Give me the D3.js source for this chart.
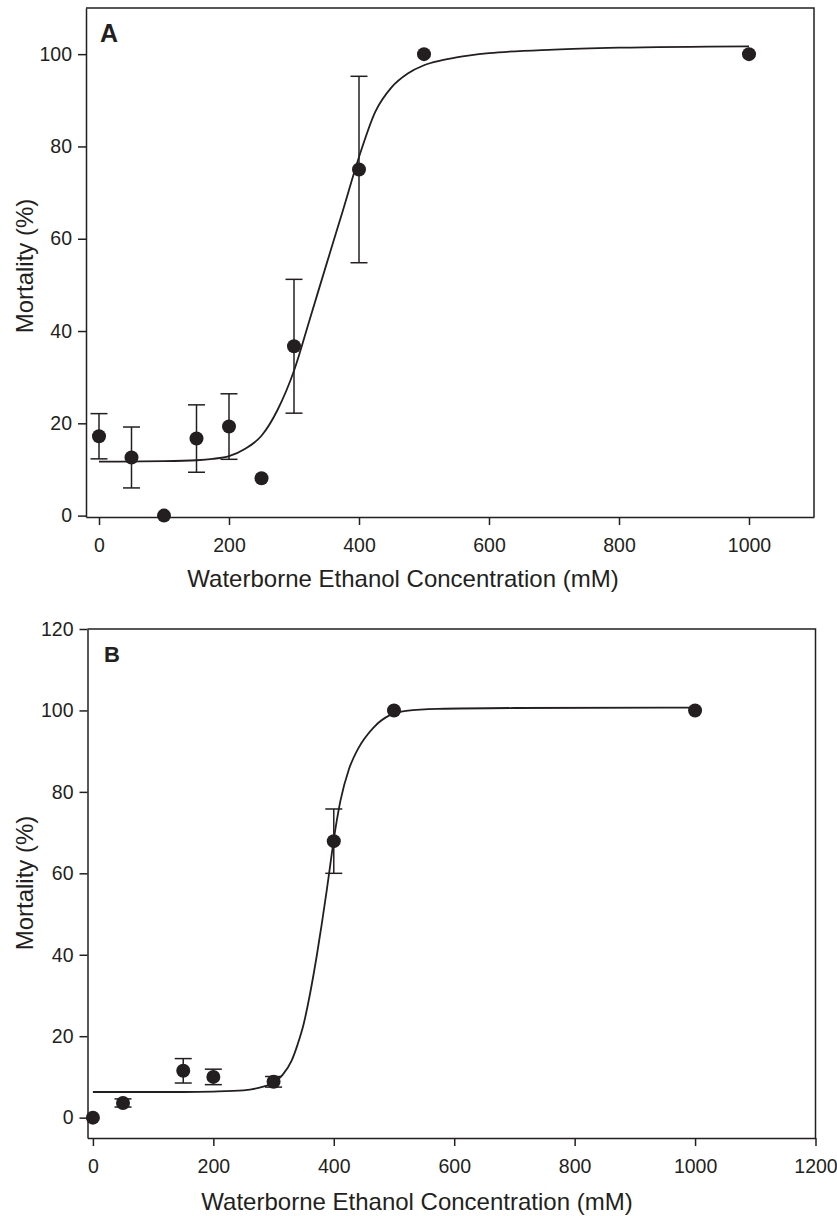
<!DOCTYPE html>
<html>
<head>
    <meta charset="utf-8">
    <title>ethanol_mortality</title>
    <script src="https://d3js.org/d3.v7.min.js"></script>
    <style>
        body { margin: 0; background: #fff; }
        text { font-family: "Liberation Sans", Arial, sans-serif; fill: #231f20; }
        .axis path, .axis line { stroke: #231f20; stroke-width: 1.5; }
        .axis text { font-size: 19.5px; }
    </style>
</head>
<body>
    <svg width="837" height="1216"></svg>
    <script>
        // Panel A: observed mortality, mean and error
        var concA = [0, 50, 100, 150, 200, 250, 300, 400, 500, 1000];
        var mortA = [17.2, 12.6, 0, 16.7, 19.3, 8.1, 36.7, 75.0, 100, 100];
        var errA  = [4.9, 6.6, 0, 7.3, 7.1, 0, 14.5, 20.2, 0, 0];

        // Panel A: fitted curve
        var fitAx = [0, 100, 150, 175, 200, 225, 250, 275, 300, 325, 350, 375, 400, 425, 450, 475, 500, 525, 550, 600, 700, 800, 1000];
        var fitAy = [11.7, 11.8, 12.0, 12.3, 12.9, 14.5, 17.3, 23.0, 31.4, 42.9, 54.5, 66.0, 77.7, 87.5, 92.8, 95.8, 97.6, 98.6, 99.3, 100.2, 101.0, 101.4, 101.7];

        // Panel B
        var concB = [0, 50, 150, 200, 300, 400, 500, 1000];
        var mortB = [0, 3.6, 11.5, 10.0, 8.8, 67.9, 100, 100];
        var errB  = [0, 1.0, 3.0, 1.9, 1.3, 7.9, 0, 0];

        var fitBx = [0, 150, 200, 250, 275, 300, 315, 330, 340, 350, 360, 372, 380, 388, 395, 400, 411, 425, 440, 466, 494, 520, 572, 700, 1000];
        var fitBy = [6.3, 6.3, 6.4, 6.7, 7.3, 8.6, 10.5, 14.0, 18.0, 23.0, 30.0, 40.0, 47.5, 55.5, 63.0, 68.3, 77.8, 85.5, 90.5, 95.8, 98.9, 99.9, 100.4, 100.6, 100.7];

        // Tick values
        var xTicksA = [0, 200, 400, 600, 800, 1000];
        var yTicksA = [0, 20, 40, 60, 80, 100];
        var xTicksB = [0, 200, 400, 600, 800, 1000, 1200];
        var yTicksB = [0, 20, 40, 60, 80, 100, 120];

        var xTitle = "Waterborne Ethanol Concentration (mM)";
        var yTitle = "Mortality (%)";

        var svg = d3.select("svg");

        function drawPanel(p) {
            var x = d3.scaleLinear().domain(p.xDomain).range([p.left, p.right]);
            var y = d3.scaleLinear().domain(p.yDomain).range([p.bottom, p.top]);

            var g = svg.append("g");

            // x axis
            g.append("g")
                .attr("class", "axis")
                .attr("transform", "translate(0," + p.bottom + ")")
                .call(d3.axisBottom(x).tickValues(p.xTicks).tickFormat(d3.format("d"))
                    .tickSize(8).tickSizeOuter(0).tickPadding(13));

            // y axis
            g.append("g")
                .attr("class", "axis")
                .attr("transform", "translate(" + p.left + ",0)")
                .call(d3.axisLeft(y).tickValues(p.yTicks).tickFormat(d3.format("d"))
                    .tickSize(8).tickSizeOuter(0).tickPadding(6));

            // top and right frame
            g.append("path")
                .attr("d", "M" + p.left + "," + p.top + "H" + p.right + "V" + p.bottom)
                .attr("fill", "none")
                .attr("stroke", "#231f20")
                .attr("stroke-width", 1.5);

            // fitted curve
            var line = d3.line()
                .x(function(d) { return x(d[0]); })
                .y(function(d) { return y(d[1]); })
                .curve(d3.curveMonotoneX);

            g.append("path")
                .datum(d3.zip(p.fitX, p.fitY))
                .attr("d", line)
                .attr("fill", "none")
                .attr("stroke", "#231f20")
                .attr("stroke-width", 1.8);

            var pts = p.conc.map(function(c, i) {
                return { c: c, m: p.mort[i], e: p.err[i] };
            });

            // error bars
            var bars = g.selectAll(".err")
                .data(pts.filter(function(d) { return d.e > 0; }))
                .enter().append("g")
                .attr("stroke", "#231f20")
                .attr("stroke-width", 1.5);

            bars.append("line")
                .attr("x1", function(d) { return x(d.c); })
                .attr("x2", function(d) { return x(d.c); })
                .attr("y1", function(d) { return y(d.m - d.e); })
                .attr("y2", function(d) { return y(d.m + d.e); });
            bars.append("line")
                .attr("x1", function(d) { return x(d.c) - 8.5; })
                .attr("x2", function(d) { return x(d.c) + 8.5; })
                .attr("y1", function(d) { return y(d.m + d.e); })
                .attr("y2", function(d) { return y(d.m + d.e); });
            bars.append("line")
                .attr("x1", function(d) { return x(d.c) - 8.5; })
                .attr("x2", function(d) { return x(d.c) + 8.5; })
                .attr("y1", function(d) { return y(d.m - d.e); })
                .attr("y2", function(d) { return y(d.m - d.e); });

            // points
            g.selectAll(".pt")
                .data(pts)
                .enter().append("circle")
                .attr("cx", function(d) { return x(d.c); })
                .attr("cy", function(d) { return y(d.m); })
                .attr("r", 7)
                .attr("fill", "#231f20");

            // panel letter
            g.append("text")
                .attr("x", p.letterX)
                .attr("y", p.letterY)
                .attr("font-size", p.letterSize + "px")
                .attr("font-weight", "bold")
                .text(p.letter);

            // axis titles
            g.append("text")
                .attr("x", p.xTitleX)
                .attr("y", p.xTitleY)
                .attr("text-anchor", "middle")
                .attr("font-size", "24px")
                .text(xTitle);

            g.append("text")
                .attr("transform", "translate(33," + p.yTitleY + ") rotate(-90)")
                .attr("text-anchor", "middle")
                .attr("font-size", "24px")
                .text(yTitle);
        }

        drawPanel({
            letter: "A", letterX: 100, letterY: 42, letterSize: 25,
            conc: concA, mort: mortA, err: errA, fitX: fitAx, fitY: fitAy,
            xTicks: xTicksA, yTicks: yTicksA,
            xDomain: [-20, 1100], yDomain: [-0.3, 110],
            left: 86, right: 814, top: 8, bottom: 517,
            xTitleX: 403, xTitleY: 587, yTitleY: 266
        });

        drawPanel({
            letter: "B", letterX: 104, letterY: 662, letterSize: 22,
            conc: concB, mort: mortB, err: errB, fitX: fitBx, fitY: fitBy,
            xTicks: xTicksB, yTicks: yTicksB,
            xDomain: [-9, 1200], yDomain: [-5, 120],
            left: 87.5, right: 815.5, top: 629, bottom: 1138,
            xTitleX: 417, xTitleY: 1210, yTitleY: 883
        });
    </script>
</body>
</html>
